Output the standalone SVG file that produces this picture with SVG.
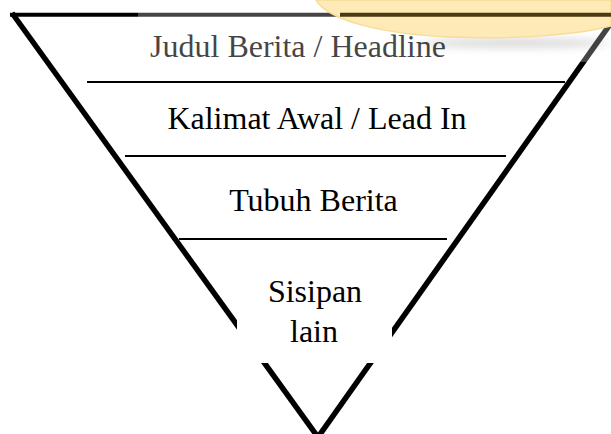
<svg xmlns="http://www.w3.org/2000/svg" width="611" height="434" viewBox="0 0 611 434">
<style>
.t{font-family:"Liberation Serif","Times New Roman",serif;font-size:32px;fill:#000;text-anchor:middle}
.sep{stroke:#000;stroke-width:2;fill:none}
.side{stroke:#000;stroke-width:5.5;fill:none;stroke-linecap:butt}
</style>
<defs>
<filter id="blur" x="-50%" y="-200%" width="200%" height="500%"><feGaussianBlur stdDeviation="4"/></filter>
</defs>
<rect x="0" y="0" width="611" height="434" fill="#fff"/>
<g id="funnel">
<line class="side" x1="12" y1="13" x2="320" y2="440"/>
<line class="side" x1="618" y1="13" x2="316" y2="440"/>
<line x1="10" y1="14.7" x2="611" y2="14.7" stroke="#000" stroke-width="4"/>
</g>
<g id="connectors">
<line class="sep" x1="87" y1="82" x2="565" y2="82"/>
<line class="sep" x1="125" y1="156" x2="506" y2="156"/>
<line class="sep" x1="179" y1="239" x2="447" y2="239"/>
</g>
<g id="headline"><text class="t" x="298" y="57">Judul Berita / Headline</text></g>
<g id="lead"><text class="t" x="317" y="129">Kalimat Awal / Lead In</text></g>
<g id="body"><text class="t" x="313.5" y="211">Tubuh Berita</text></g>
<g id="extra">
<rect x="237" y="250" width="155" height="113" fill="#fff"/>
<text class="t" x="315" y="302">Sisipan</text>
<text class="t" x="314" y="342">lain</text>
</g>
<g id="overlay">
<rect x="138" y="0" width="473" height="62" fill="#fff" opacity="0.27"/>
<ellipse cx="515" cy="43" rx="95" ry="5" fill="#000" opacity="0.14" filter="url(#blur)"/>
<path d="M316,0 C328,20 380,34 450,37 C520,40 580,34 611,26 L611,0 Z" fill="#fdeab6" stroke="#f8dc98" stroke-width="1.5"/>
<line x1="340" y1="14.7" x2="611" y2="14.7" stroke="#4a3a0e" stroke-width="4"/>
</g>
</svg>
